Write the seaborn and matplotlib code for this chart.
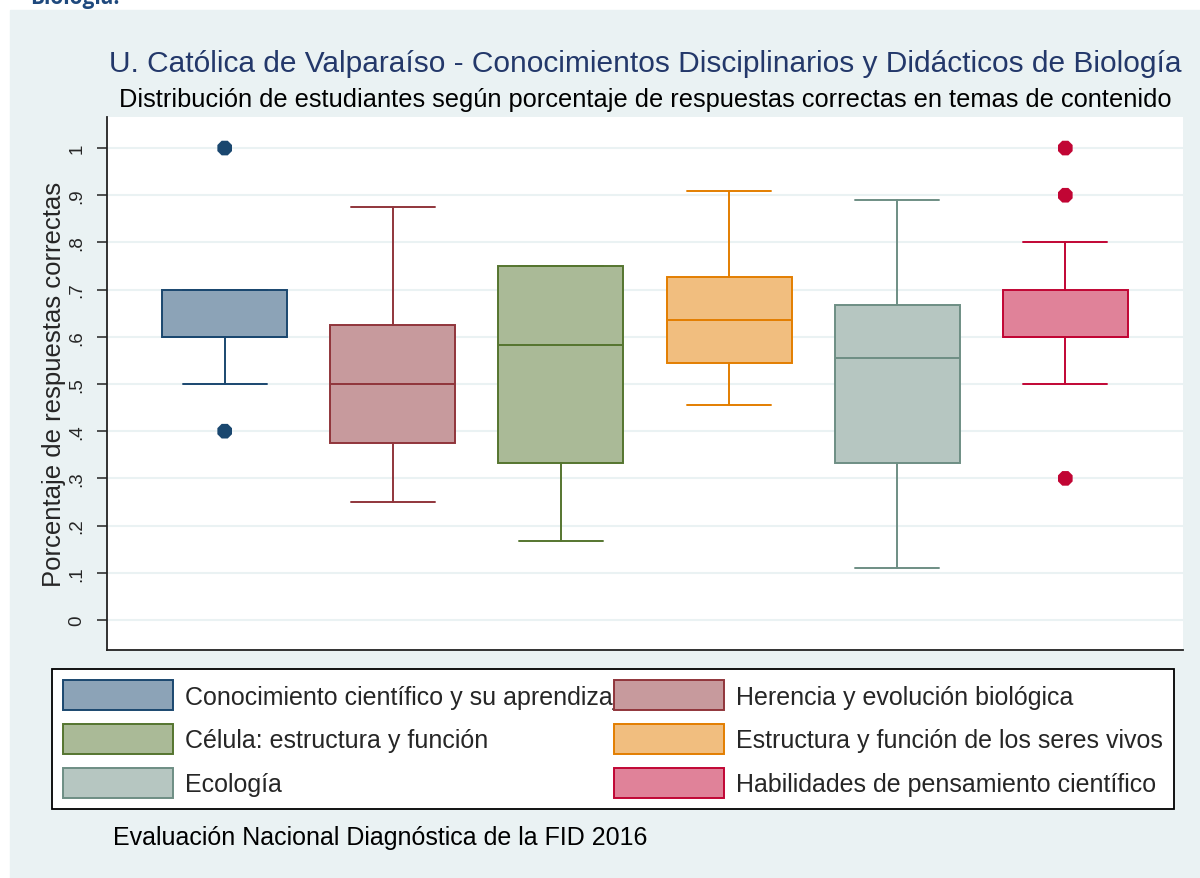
import numpy as np
import pandas as pd
import matplotlib
matplotlib.use('Agg')
import matplotlib.pyplot as plt
from matplotlib.patches import Patch, Rectangle
import seaborn as sns

# temas (orden de las cajas)
temas = ['Conocimiento científico y su aprendizaje',
         'Herencia y evolución biológica',
         'Célula: estructura y función',
         'Estructura y función de los seres vivos',
         'Ecología',
         'Habilidades de pensamiento científico']

# resumen de cada caja
q1 = [0.60, 0.375, 0.333, 0.545, 0.333, 0.60]
mediana = [0.60, 0.50, 0.583, 0.636, 0.556, 0.60]
q3 = [0.70, 0.625, 0.75, 0.727, 0.667, 0.70]
bigote_inf = [0.50, 0.25, 0.167, 0.455, 0.111, 0.50]
bigote_sup = [0.70, 0.875, 0.75, 0.909, 0.889, 0.80]

# valores atipicos
atip_tema = [0, 0, 5, 5, 5]
atip_valor = [1.0, 0.4, 1.0, 0.9, 0.3]

yticks = [0, .1, .2, .3, .4, .5, .6, .7, .8, .9, 1]
ytick_labels = ['0', '.1', '.2', '.3', '.4', '.5', '.6', '.7', '.8', '.9', '1']

borde = ['#1A476F', '#90353B', '#55752F', '#E37E00', '#6E8E84', '#C10534']
relleno = ['#8CA3B7', '#C79A9D', '#AABA97', '#F1BE7F', '#B6C6C1', '#E08299']

sns.set_style('white')
plt.rcParams['font.family'] = ['Liberation Sans', 'DejaVu Sans']

fig = plt.figure(figsize=(12, 8.79), dpi=100)
fig.patches.append(Rectangle((10/1200, 0), 1 - 10/1200, 1 - 11/879,
                             transform=fig.transFigure, color='#EAF2F3', zorder=-10))

ax = fig.add_axes([107/1200, 1 - 651/879, (1183-107)/1200, (651-118)/879])
ax.set_facecolor('white')

stats = []
for i in range(len(temas)):
    stats.append(dict(med=mediana[i], q1=q1[i], q3=q3[i],
                      whislo=bigote_inf[i], whishi=bigote_sup[i], fliers=[]))

bp = ax.bxp(stats, positions=range(len(temas)), widths=0.744, capwidths=0.5,
            patch_artist=True, showfliers=False, zorder=3)
for i in range(len(temas)):
    bp['boxes'][i].set_facecolor(relleno[i])
    bp['boxes'][i].set_edgecolor(borde[i])
    bp['boxes'][i].set_linewidth(1.4)
    bp['medians'][i].set_color(borde[i])
    bp['medians'][i].set_linewidth(1.4)
    for j in (2*i, 2*i+1):
        bp['whiskers'][j].set_color(borde[i])
        bp['whiskers'][j].set_linewidth(1.4)
        bp['caps'][j].set_color(borde[i])
        bp['caps'][j].set_linewidth(1.4)

df_atip = pd.DataFrame({'tema': atip_tema, 'valor': atip_valor})
sns.scatterplot(data=df_atip, x='tema', y='valor', hue='tema',
                palette={0: borde[0], 5: borde[5]}, s=130, marker='8',
                edgecolor='none', legend=False, ax=ax, zorder=4)

ax.set_xlim(-0.70, 5.70)
ax.set_ylim(-0.0637, 1.0658)
ax.set_xticks([])
ax.set_xlabel('')
ax.set_yticks(yticks)
ax.set_yticklabels(ytick_labels, rotation=90, va='center', fontsize=13.5)
ax.tick_params(axis='y', length=7.5, width=1.1, color='#222222', pad=8, left=True)
ax.yaxis.grid(True, color='#EAF2F3', linewidth=1.5, zorder=0)
ax.set_axisbelow(True)
for s in ['top', 'right']:
    ax.spines[s].set_visible(False)
for s in ['left', 'bottom']:
    ax.spines[s].set_color('#222222')
    ax.spines[s].set_linewidth(1.3)
ax.set_ylabel('Porcentaje de respuestas correctas', fontsize=18.5, labelpad=2)

fig.text(0.5375, 1 - 72/879, 'U. Católica de Valparaíso - Conocimientos Disciplinarios y Didácticos de Biología',
         ha='center', va='baseline', fontsize=21.5, color='#23386A')
fig.text(0.5375, 1 - 107/879, 'Distribución de estudiantes según porcentaje de respuestas correctas en temas de contenido',
         ha='center', va='baseline', fontsize=18.3, color='black')
fig.text(113/1200, 1 - 845/879, 'Evaluación Nacional Diagnóstica de la FID 2016',
         ha='left', va='baseline', fontsize=18, color='black')
fig.text(30/1200, 1 - 4/879, 'Biología:', ha='left', va='baseline', fontsize=15,
         fontweight='bold', color='#1F497D', family=['Open Sans', 'DejaVu Sans'])

handles = [Patch(facecolor=relleno[i], edgecolor=borde[i], linewidth=1.4) for i in range(len(temas))]
orden = [0, 2, 4, 1, 3, 5]
leg = fig.legend([handles[i] for i in orden], [temas[i] for i in orden],
                 ncol=2, loc='upper left', mode='expand',
                 bbox_to_anchor=(52/1200, 1 - 811/879, 1122/1200, 141/879),
                 borderaxespad=0, fontsize=18, handlelength=4.4, handleheight=1.47,
                 handletextpad=0.48, labelspacing=0.55, borderpad=0.45,
                 fancybox=False, framealpha=1, edgecolor='black')
leg.get_frame().set_linewidth(1.3)

fig.savefig('out.png', dpi=100)
